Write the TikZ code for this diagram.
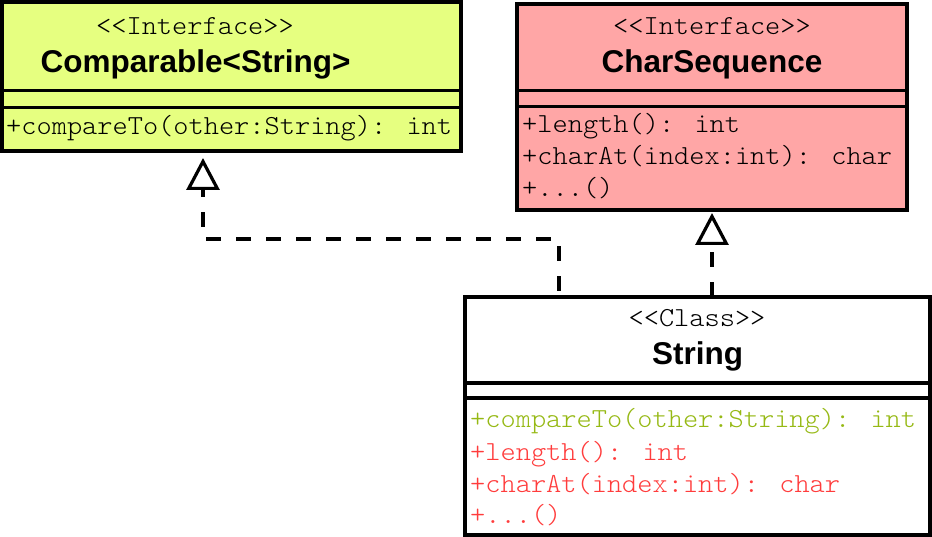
\documentclass[tikz,border=0pt]{standalone}
\usepackage{fontspec}
\usetikzlibrary{arrows.meta}
\newfontfamily\umlmono{lmmonolt10-regular.otf}[Ligatures=TeXOff, FakeStretch=1.053]
\newfontfamily\umlsans{Liberation Sans}[Ligatures=TeXOff]
\definecolor{compfill}{RGB}{230,255,128}
\definecolor{seqfill}{RGB}{255,166,166}
\definecolor{compgreen}{RGB}{150,185,20}
\definecolor{seqred}{RGB}{255,60,60}
\begin{document}
\begin{tikzpicture}[x=1pt,y=-1pt,
  classbox/.style={draw, line width=3.6pt, inner sep=0pt, outer sep=0pt},
  divider/.style={line width=3.6pt},
  stereo/.style={font=\umlmono\fontsize{27.5}{32}\selectfont, inner sep=0pt, anchor=base},
  titletext/.style={font=\umlsans\bfseries\fontsize{31.5}{36}\selectfont, inner sep=0pt, anchor=base},
  member/.style={font=\umlmono\fontsize{27.5}{32}\selectfont, inner sep=0pt, anchor=base west},
  realize/.style={line width=3.2pt, dash pattern=on 15pt off 15pt, -{Triangle[open, length=32pt, width=33pt]}}
]
\useasboundingbox (0,0) rectangle (932,537);
% Comparable<String>
\node[classbox, fill=compfill, minimum width=459pt, minimum height=149pt] (comp) at (231.5,76.5) {};
\draw[divider] (2,90.5) -- (461,90.5);
\draw[divider] (2,107.5) -- (461,107.5);
\node[stereo] (compst) at (195,35) {<<Interface>>};
\node[titletext] (comptitle) at (195.5,73) {Comparable<String>};
\node[member] (compm1) at (6,135) {+compareTo(other:String): int};
% CharSequence
\node[classbox, fill=seqfill, minimum width=390pt, minimum height=206pt] (seq) at (712,107) {};
\draw[divider] (517,90.5) -- (907,90.5);
\draw[divider] (517,106.5) -- (907,106.5);
\node[stereo] (seqst) at (712,35) {<<Interface>>};
\node[titletext] (seqtitle) at (712,73) {CharSequence};
\node[member] (seqm1) at (522,133) {+length(): int};
\node[member] (seqm2) at (522,165) {+charAt(index:int): char};
\node[member] (seqm3) at (522,197) {+...()};
% String
\node[classbox, fill=white, minimum width=465pt, minimum height=238pt] (str) at (697.5,416) {};
\draw[divider] (465,383) -- (930,383);
\draw[divider] (465,398) -- (930,398);
\node[stereo] (strst) at (697,327) {<<Class>>};
\node[titletext] (strtitle) at (697.5,365) {String};
\node[member, text=compgreen] (strm1) at (470,427) {+compareTo(other:String): int};
\node[member, text=seqred] (strm2) at (470,460) {+length(): int};
\node[member, text=seqred] (strm3) at (470,492) {+charAt(index:int): char};
\node[member, text=seqred] (strm4) at (470,523) {+...()};
% realizations
\coordinate (bendA) at (559,239);
\coordinate (bendB) at (203,239);
\draw[realize, dash phase=24pt, shorten >=7pt] (bendA |- str.north) -- (bendA) -- (bendB) -- (bendB |- comp.south);
\draw[realize, shorten >=3pt] (seq.south |- str.north) -- (seq.south);
\end{tikzpicture}
\end{document}
